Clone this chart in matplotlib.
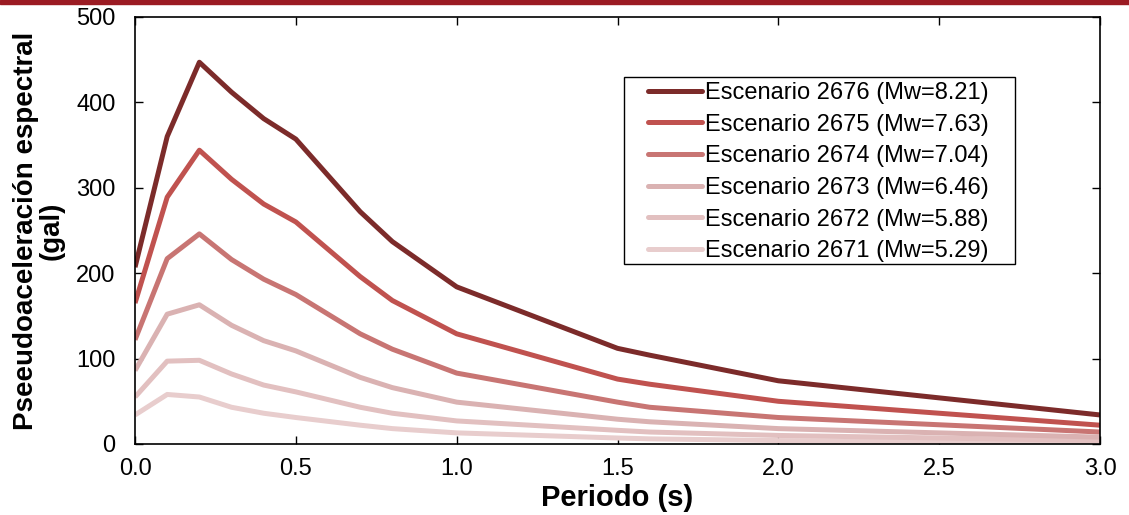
import numpy as np
import matplotlib.pyplot as plt
from matplotlib.patches import Rectangle

plt.rcParams["font.family"] = ["Liberation Sans", "DejaVu Sans"]

# Periodos (s) y pseudoaceleraciones (gal)
periodo = [0.0, 0.1, 0.2, 0.3, 0.4, 0.5, 0.7, 0.8, 1.0, 1.5, 1.6, 2.0, 3.0]
esc_2676 = [207, 360, 447, 412, 381, 357, 272, 237, 184, 112, 104, 74, 34]
esc_2675 = [165, 289, 344, 310, 281, 260, 196, 168, 129, 76, 70, 50, 22]
esc_2674 = [122, 217, 246, 216, 193, 175, 129, 111, 83, 49, 43, 31, 14]
esc_2673 = [86, 152, 163, 139, 121, 109, 78, 66, 49, 29, 26, 18, 8]
esc_2672 = [55, 97, 98, 82, 69, 61, 43, 36, 27, 16, 14, 10, 4]
esc_2671 = [34, 58, 55, 43, 36, 31, 22, 18, 13, 7, 6, 4, 2]

etiquetas = [
    "Escenario 2676 (Mw=8.21)",
    "Escenario 2675 (Mw=7.63)",
    "Escenario 2674 (Mw=7.04)",
    "Escenario 2673 (Mw=6.46)",
    "Escenario 2672 (Mw=5.88)",
    "Escenario 2671 (Mw=5.29)",
]
series = [esc_2676, esc_2675, esc_2674, esc_2673, esc_2672, esc_2671]
colores = ["#7c2b2a", "#c0524f", "#c87573", "#dab2b2", "#e2c0c0", "#e8cdcd"]

W, H = 1129, 515
fig = plt.figure(figsize=(W / 100, H / 100), dpi=100)
ax = fig.add_axes([0.1196, 0.1379, 0.8547, 0.8291])

# dibujar de la mas clara a la mas oscura para que la oscura quede encima
for vals, lab, col in list(zip(series, etiquetas, colores))[::-1]:
    ax.plot(periodo, vals, color=col, lw=3.6, label=lab, solid_capstyle="butt")

ax.set_xlim(0, 3.0)
ax.set_ylim(0, 500)
ax.set_xticks(np.arange(0, 3.01, 0.5))
ax.set_xticklabels([f"{t:.1f}" for t in np.arange(0, 3.01, 0.5)])
ax.set_yticks(np.arange(0, 501, 100))
ax.tick_params(direction="in", length=6, width=1, labelsize=17,
               top=True, right=True)
ax.tick_params(axis="y", pad=14)
ax.tick_params(axis="x", pad=10)
for s in ax.spines.values():
    s.set_linewidth(1.2)

ax.set_xlabel("Periodo (s)", fontsize=21, fontweight="bold", labelpad=3)
ax.set_ylabel("Pseeudoaceleración espectral\n(gal)", fontsize=20,
              fontweight="bold", labelpad=8, linespacing=1.0)

# leyenda sin marco; el marco se dibuja aparte (mas holgura a los lados)
handles, labels = ax.get_legend_handles_labels()
leg = ax.legend(handles[::-1], labels[::-1], loc="upper left",
                bbox_to_anchor=(648 / W, 1 - 82 / H),
                bbox_transform=fig.transFigure, fontsize=17, frameon=False,
                handlelength=2.3, handletextpad=0.1, labelspacing=0.41,
                borderpad=0, borderaxespad=0)
leg.set_zorder(6)
for line in leg.get_lines():
    line.set_solid_capstyle("round")

marco = Rectangle((624 / W, 1 - 264 / H), 391 / W, 187 / H,
                  transform=fig.transFigure, facecolor="white",
                  edgecolor="black", lw=1.0, zorder=5)
ax.add_artist(marco)

# franja superior
fig.patches.append(Rectangle((0, 1 - 4 / H), 1, 4 / H,
                             transform=fig.transFigure, color="#9b1b23",
                             zorder=10))

fig.savefig("out.png", dpi=100)
